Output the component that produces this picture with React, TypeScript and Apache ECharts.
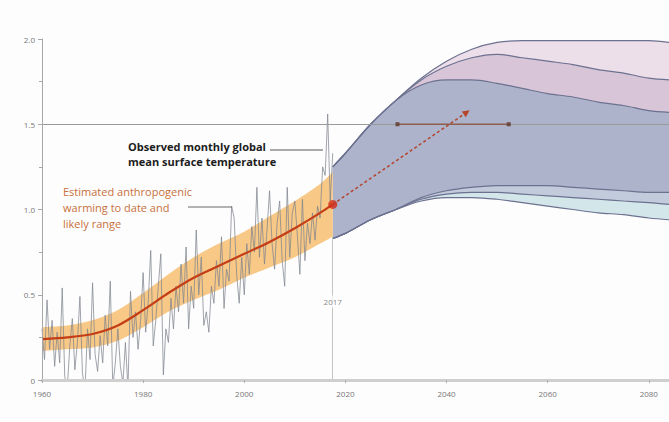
import React, { useEffect, useRef } from "react";
import * as echarts from "echarts";

// ---------- data ----------
const obsStartYear = 1960;
const obsStep = 0.5;
// observed global mean surface temperature anomaly (°C), read every half year
const obsTemps = [
  0.30, 0.12, 0.47, 0.18, 0.35, 0.08, 0.28, 0.10, 0.54, 0.02,
  -0.05, 0.20, 0.36, 0.06, 0.22, 0.49, 0.04, -0.06, 0.30, 0.12,
  0.57, 0.15, 0.05, 0.26, 0.10, 0.38, 0.20, 0.58, -0.04, 0.10,
  0.30, 0.08, -0.02, 0.22, -0.05, 0.52, 0.25, 0.40, 0.18, 0.35,
  0.63, 0.28, 0.45, 0.76, 0.20, 0.35, 0.55, 0.74, 0.03, 0.30,
  0.22, 0.48, 0.30, 0.55, 0.40, 0.68, 0.45, 0.78, 0.30, 0.55,
  0.42, 0.88, 0.50, 0.72, 0.32, 0.40, 0.28, 0.55, 0.45, 0.70,
  0.55, 0.84, 0.42, 0.65, 0.58, 1.02, 0.95, 0.62, 0.45, 0.72,
  0.50, 0.80, 0.62, 0.90, 0.75, 1.13, 0.72, 0.95, 0.68, 0.88,
  1.11, 0.80, 0.65, 0.92, 1.05, 0.70, 0.55, 1.13, 0.72, 0.98,
  1.05, 0.85, 0.62, 1.06, 0.70, 0.92, 0.80, 0.98, 0.82, 1.02,
  0.95, 1.25, 1.20, 1.56, 1.05, 1.33,
];

// estimated anthropogenic warming and likely range
const histYears = [1960, 1965, 1970, 1975, 1980, 1985, 1990, 1995, 2000, 2005, 2010, 2015, 2017.5];
const anthroWarming = [0.24, 0.25, 0.27, 0.32, 0.41, 0.51, 0.60, 0.67, 0.74, 0.81, 0.89, 0.98, 1.03];
const anthroLow = [0.17, 0.18, 0.19, 0.23, 0.31, 0.40, 0.47, 0.53, 0.60, 0.66, 0.72, 0.80, 0.84];
const anthroHigh = [0.31, 0.32, 0.35, 0.41, 0.51, 0.62, 0.72, 0.80, 0.87, 0.96, 1.05, 1.15, 1.22];

// projection plumes
const projYears = [2017.5, 2020, 2025, 2030, 2035, 2040, 2045, 2050, 2055, 2060, 2065, 2070, 2075, 2080, 2084];
const purpleTop = [1.25, 1.33, 1.50, 1.64, 1.77, 1.87, 1.94, 1.98, 1.99, 1.99, 1.99, 1.99, 1.99, 1.99, 1.98];
const greyTop = [1.25, 1.33, 1.50, 1.64, 1.76, 1.84, 1.89, 1.91, 1.89, 1.87, 1.85, 1.82, 1.80, 1.77, 1.76];
const blueTop = [1.25, 1.33, 1.50, 1.64, 1.73, 1.76, 1.76, 1.74, 1.71, 1.68, 1.66, 1.63, 1.61, 1.58, 1.57];
const greyBottom = [0.83, 0.86, 0.94, 1.00, 1.07, 1.11, 1.13, 1.14, 1.14, 1.14, 1.13, 1.12, 1.11, 1.10, 1.10];
const purpleBottom = [0.83, 0.86, 0.94, 1.00, 1.06, 1.09, 1.10, 1.10, 1.09, 1.08, 1.07, 1.06, 1.05, 1.04, 1.03];
const blueBottom = [0.83, 0.86, 0.94, 1.00, 1.05, 1.07, 1.07, 1.06, 1.04, 1.02, 1.00, 0.98, 0.97, 0.95, 0.94];

// 1.5 °C reached between these years; arrow at current rate
const rangeYears = [2030.3, 2052.3];
const threshold = 1.5;
const arrowStart = [2017.5, 1.03];
const arrowEnd = [2044, 1.57];
const presentYear = 2017.5;
const presentLabel = "2017";
const presentLabelValue = 0.46;

const yTicks = [0, 0.5, 1.0, 1.5, 2.0];

// ---------- helpers ----------
const BG = "#fdfdfd";
const pairs = (xs: number[], ys: number[]) => xs.map((x, i) => [x, ys[i]]);

export default function App() {
  const ref = useRef<HTMLDivElement>(null);

  useEffect(() => {
    if (!ref.current) return;
    const chart = echarts.init(ref.current, null, { renderer: "svg" });
    const bandLine = { color: "#6c7190", width: 1.2 };

    const obsData = obsTemps.map((v, i) => [obsStartYear + i * obsStep, v]);

    // layered opaque areas: each fills from its curve down to 0, drawn top-most curve first
    const layer = (name: string, vals: number[], fill: string, z: number, line: any = bandLine) => ({
      name,
      type: "line",
      smooth: 0.35,
      symbol: "none",
      data: pairs(projYears, vals),
      lineStyle: line,
      areaStyle: { color: fill, opacity: 1 },
      z,
    });

    chart.setOption({
      animation: false,
      backgroundColor: BG,
      grid: { left: 42, right: 0, top: 39, bottom: 42, containLabel: false },
      xAxis: {
        type: "value",
        min: 1960,
        max: 2084,
        interval: 20,
        z: 20,
        axisLine: { lineStyle: { color: "#cfcfcf", width: 3 } },
        axisTick: { show: true, length: 3, lineStyle: { color: "#b0b0b0" } },
        axisLabel: {
          color: "#777",
          fontSize: 8,
          margin: 9,
          showMaxLabel: false,
          fontFamily: "Open Sans",
          formatter: (v: number) => String(v),
        },
        splitLine: { show: false },
      },
      yAxis: {
        type: "value",
        min: 0,
        max: 2,
        interval: 0.5,
        z: 20,
        axisLine: { show: true, lineStyle: { color: "#a8a8a8", width: 1 } },
        axisTick: { show: true, length: 4, lineStyle: { color: "#a8a8a8" } },
        minorTick: { show: true, splitNumber: 2, length: 3, lineStyle: { color: "#a8a8a8" } },
        axisLabel: {
          color: "#777",
          fontSize: 8,
          margin: 7,
          fontFamily: "Open Sans",
          formatter: (v: number) => (yTicks.includes(v) ? (v === 0 ? "0" : v.toFixed(1)) : ""),
        },
        splitLine: { show: false },
      },
      series: [
        // projection plumes
        layer("purpleTop", purpleTop, "#eddfe9", 2),
        layer("greyTop", greyTop, "#d8c6d8", 2),
        layer("blueTop", blueTop, "#adb3cb", 2),
        layer("greyBottom", greyBottom, "#c2cbdb", 2),
        layer("purpleBottom", purpleBottom, "#d3e7ea", 2),
        layer("blueBottom", blueBottom, BG, 2),
        // likely range (orange) with background fill beneath it
        {
          name: "rangeHigh",
          type: "line",
          smooth: 0.3,
          symbol: "none",
          data: pairs(histYears, anthroHigh),
          lineStyle: { width: 0 },
          areaStyle: { color: "#f8c886", opacity: 1 },
          z: 3,
        },
        {
          name: "rangeLow",
          type: "line",
          smooth: 0.3,
          symbol: "none",
          data: pairs(histYears, anthroLow),
          lineStyle: { width: 0 },
          areaStyle: { color: BG, opacity: 1 },
          z: 3,
        },
        // observed monthly GMST
        {
          name: "observed",
          type: "line",
          symbol: "none",
          data: obsData,
          lineStyle: { color: "#80858f", width: 1, opacity: 0.75 },
          z: 4,
        },
        // estimated anthropogenic warming
        {
          name: "anthro",
          type: "line",
          smooth: 0.3,
          symbol: "none",
          data: pairs(histYears, anthroWarming),
          lineStyle: { color: "#c43d14", width: 2.2 },
          z: 5,
        },
        // reference lines and arrow
        {
          name: "refs",
          type: "line",
          data: [],
          z: 6,
          markLine: {
            silent: true,
            symbol: ["none", "none"],
            label: { show: false },
            data: [
              [
                { coord: [1960, threshold], lineStyle: { color: "#9a9a9a", width: 1, type: "solid" } },
                { coord: [2084, threshold] },
              ],
              [
                { coord: [presentYear, 0], lineStyle: { color: "#c4c4c4", width: 1, type: "solid" } },
                { coord: [presentYear, 0.84] },
              ],
              [
                {
                  coord: arrowStart,
                  symbol: "none",
                  lineStyle: { color: "#b4442a", width: 1.5, type: [3, 2.5] },
                },
                { coord: arrowEnd, symbol: "triangle", symbolSize: 7 },
              ],
            ],
          },
        },
        // 1.5 reached between 2030 and 2052
        {
          name: "range15",
          type: "line",
          symbol: "rect",
          symbolSize: 4,
          data: rangeYears.map((y) => [y, threshold]),
          lineStyle: { color: "#8e5e4f", width: 1.5 },
          itemStyle: { color: "#6b4a40" },
          z: 7,
        },
        // present-day point
        {
          name: "present",
          type: "scatter",
          symbolSize: 9,
          data: [arrowStart],
          itemStyle: { color: "#d12a18" },
          z: 8,
        },
        // 2017 label
        {
          name: "presentLabel",
          type: "scatter",
          symbolSize: 0,
          data: [[presentYear, presentLabelValue]],
          label: {
            show: true,
            formatter: presentLabel,
            position: "inside",
            color: "#666",
            fontSize: 8,
            fontFamily: "Open Sans",
            backgroundColor: BG,
            padding: [2, 1],
          },
          z: 8,
        },
      ],
      graphic: [
        {
          type: "text",
          x: 128,
          y: 139,
          style: {
            text: "Observed monthly global\nmean surface temperature",
            fontSize: 11,
            fontWeight: "bold",
            fontFamily: "Open Sans",
            fill: "#1c1c1c",
            lineHeight: 15,
          },
          z: 10,
        },
        {
          type: "line",
          shape: { x1: 270, y1: 150, x2: 323, y2: 150 },
          style: { stroke: "#555", lineWidth: 1 },
          z: 10,
        },
        {
          type: "text",
          x: 63,
          y: 183,
          style: {
            text: "Estimated anthropogenic\nwarming to date and\nlikely range",
            fontSize: 11,
            fontFamily: "Open Sans",
            fill: "#c8703c",
            lineHeight: 16,
          },
          z: 10,
        },
        {
          type: "line",
          shape: { x1: 188, y1: 207, x2: 232, y2: 207 },
          style: { stroke: "#6a6a6a", lineWidth: 1 },
          z: 10,
        },
      ],
    });

    return () => chart.dispose();
  }, []);

  return (
    <div
      ref={ref}
      style={{ position: "fixed", left: 0, top: 0, width: 669, height: 422, background: BG }}
    />
  );
}
